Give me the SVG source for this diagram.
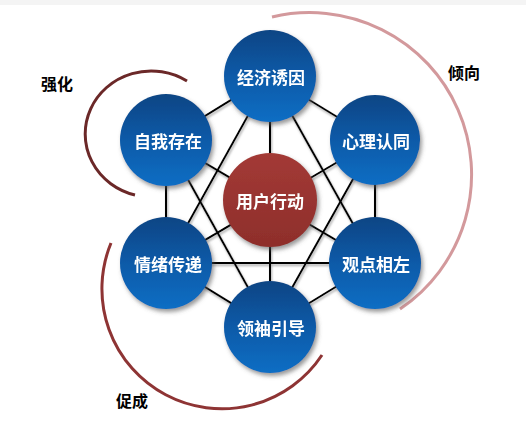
<svg xmlns="http://www.w3.org/2000/svg" width="526" height="423" viewBox="0 0 526 423">
<style>
.lbl{font-family:"Noto Sans CJK SC","Noto Sans",sans-serif;font-weight:bold;font-size:17px;fill:#fff;text-anchor:middle;dominant-baseline:central}
.out{font-family:"Noto Sans CJK SC","Noto Sans",sans-serif;font-weight:bold;font-size:16px;fill:#000;text-anchor:middle;dominant-baseline:central}
.ln{stroke:#000;stroke-width:2;fill:none}
.blue{fill:url(#gb)}
.red{fill:url(#gr)}
</style>
<defs>
<linearGradient id="gb" x1="0" y1="0" x2="0" y2="1">
<stop offset="0" stop-color="#0c4584"/>
<stop offset="0.5" stop-color="#0a5aa8"/>
<stop offset="1" stop-color="#0a6ec4"/>
</linearGradient>
<linearGradient id="gr" x1="0" y1="0" x2="0" y2="1">
<stop offset="0" stop-color="#a33a36"/>
<stop offset="1" stop-color="#8e2e2b"/>
</linearGradient>
<filter id="sh" x="-20%" y="-20%" width="150%" height="150%">
<feDropShadow dx="2" dy="3" stdDeviation="2" flood-color="#555" flood-opacity="0.6"/>
</filter>
<filter id="lsh" x="-10%" y="-10%" width="120%" height="120%">
<feDropShadow dx="1" dy="2" stdDeviation="0.8" flood-color="#888" flood-opacity="0.7"/>
</filter>
</defs>
<rect x="0" y="0" width="526" height="423" fill="#fff"/>
<rect x="0" y="0" width="526" height="5" fill="#f4f4f4"/>
<g id="arcs" fill="none">
<path d="M187,81 A66,63 0 1 0 135,195" stroke="#6b2828" stroke-width="3"/>
<path d="M272,17 A162,162 0 0 1 400,309" stroke="#d3999c" stroke-width="3"/>
<path d="M111,243 A120,120 0 0 0 322,355" stroke="#8e3434" stroke-width="3"/>
</g>
<g id="connectors" filter="url(#lsh)">
<line class="ln" x1="270" y1="76" x2="375" y2="140"/>
<line class="ln" x1="375" y1="140" x2="375" y2="263"/>
<line class="ln" x1="375" y1="263" x2="270" y2="327"/>
<line class="ln" x1="270" y1="327" x2="166" y2="263"/>
<line class="ln" x1="166" y1="263" x2="166" y2="140"/>
<line class="ln" x1="166" y1="140" x2="270" y2="76"/>
<line class="ln" x1="270" y1="76" x2="375" y2="263"/>
<line class="ln" x1="270" y1="76" x2="166" y2="263"/>
<line class="ln" x1="375" y1="140" x2="270" y2="327"/>
<line class="ln" x1="166" y1="140" x2="270" y2="327"/>
<line class="ln" x1="166" y1="263" x2="375" y2="263"/>
<line class="ln" x1="270" y1="76" x2="270" y2="327"/>
<line class="ln" x1="166" y1="140" x2="375" y2="263"/>
<line class="ln" x1="375" y1="140" x2="166" y2="263"/>
</g>
<g id="n-center" filter="url(#sh)"><circle class="red" cx="270" cy="200" r="47"/><text class="lbl" x="270" y="200">用户行动</text></g>
<g id="n-jingji" filter="url(#sh)"><circle class="blue" cx="270" cy="76" r="46"/><text class="lbl" x="271" y="76">经济诱因</text></g>
<g id="n-xinli" filter="url(#sh)"><circle class="blue" cx="375" cy="140" r="45"/><text class="lbl" x="376" y="140">心理认同</text></g>
<g id="n-guandian" filter="url(#sh)"><circle class="blue" cx="375" cy="263" r="46"/><text class="lbl" x="376" y="263">观点相左</text></g>
<g id="n-lingxiu" filter="url(#sh)"><circle class="blue" cx="270" cy="327" r="46"/><text class="lbl" x="271" y="327">领袖引导</text></g>
<g id="n-qingxu" filter="url(#sh)"><circle class="blue" cx="166" cy="263" r="46"/><text class="lbl" x="168" y="263">情绪传递</text></g>
<g id="n-ziwo" filter="url(#sh)"><circle class="blue" cx="166" cy="140" r="46"/><text class="lbl" x="168" y="140">自我存在</text></g>
<g id="labels">
<text class="out" x="57" y="83">强化</text>
<text class="out" x="464" y="72">倾向</text>
<text class="out" x="132" y="400">促成</text>
</g>
</svg>
